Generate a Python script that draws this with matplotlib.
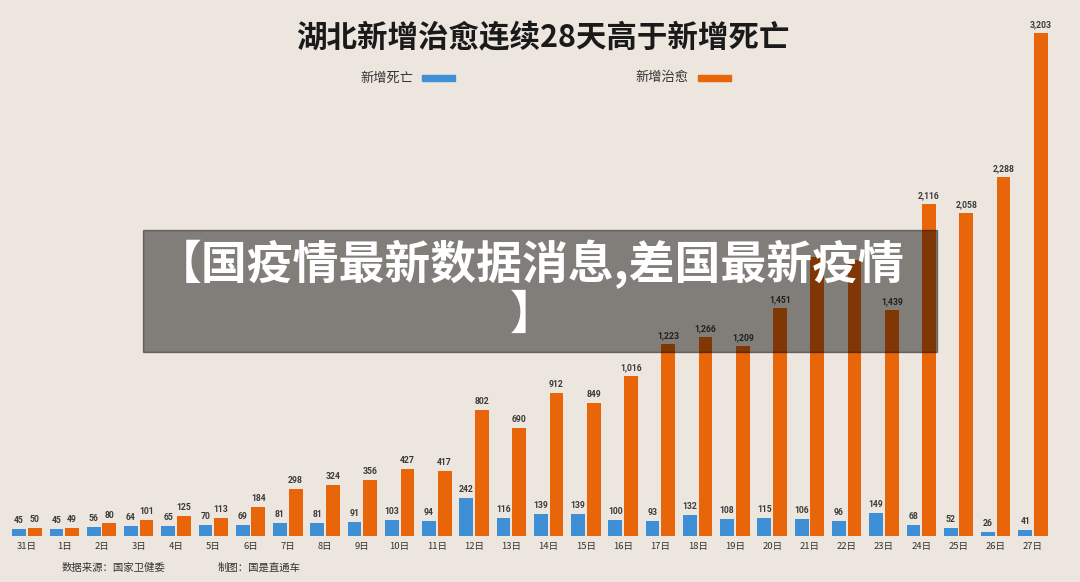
import matplotlib.pyplot as plt
import numpy as np
from matplotlib.patches import Rectangle

plt.rcParams['font.family'] = ['Noto Sans CJK SC', 'DejaVu Sans']

days = [31] + list(range(1, 28))
day_labels = [f"{d}日" for d in days]
deaths = [45, 45, 56, 64, 65, 70, 69, 81, 81, 91, 103, 94, 242, 116,
          139, 139, 100, 93, 132, 108, 115, 106, 96, 149, 68, 52, 26, 41]
cured = [50, 49, 80, 101, 125, 113, 184, 298, 324, 356, 427, 417, 802, 690,
         912, 849, 1016, 1223, 1266, 1209, 1451, 1779, 1757, 1439, 2116, 2058, 2288, 3203]
# labels of 21日 / 22日 cured bars are covered by the banner text
hidden_labels = [21, 22]

title = "湖北新增治愈连续28天高于新增死亡"
legend_names = ["新增死亡", "新增治愈"]
banner_lines = ["【国疫情最新数据消息,差国最新疫情", "】"]

bg = '#ECE6DE'
blue = '#3F8FD6'
orange = '#E8650A'

fig = plt.figure(figsize=(10.8, 5.82), dpi=100, facecolor=bg)

ax = fig.add_axes([0, 46 / 582, 1, 536 / 582])
ax.set_facecolor('none')
x = np.arange(len(days))
w = 0.37
ax.bar(x - 0.21, deaths, width=w, color=blue, zorder=2)
ax.bar(x + 0.21, cured, width=w, color=orange, zorder=2)

lab_kw = dict(ha='center', va='bottom', fontsize=6.2, color='#3a3a3a',
              fontweight='bold', family='Roboto')
for xi, day, d, c in zip(x, days, deaths, cured):
    ax.text(xi - 0.21, d + 25, f"{d:,}", **lab_kw)
    if day not in hidden_labels:
        ax.text(xi + 0.21, c + 25, f"{c:,}", **lab_kw)

ax.set_xlim(-27 / 37.26, (1080 - 27) / 37.26)
ax.set_ylim(0, 3203 * 536 / 503)
ax.set_xticks(x)
ax.set_xticklabels(day_labels, fontsize=6.8, color='#333333')
ax.tick_params(length=0, pad=4)
ax.set_yticks([])
for s in ax.spines.values():
    s.set_visible(False)

fig.text(0.503, 1 - 38 / 582, title, ha='center', va='center',
         fontsize=22, fontweight='black', color='#1a1a1a')

fig.text(413 / 1080, 1 - 78 / 582, legend_names[0], ha='right', va='center',
         fontsize=9.5, color='#333333')
fig.patches.append(Rectangle((422 / 1080, 1 - 81 / 582), 33 / 1080, 6 / 582,
                             transform=fig.transFigure, color=blue))
fig.text(688 / 1080, 1 - 78 / 582, legend_names[1], ha='right', va='center',
         fontsize=9.5, color='#333333')
fig.patches.append(Rectangle((698 / 1080, 1 - 81 / 582), 33 / 1080, 6 / 582,
                             transform=fig.transFigure, color=orange))

fig.text(62 / 1080, 1 - 568 / 582, "数据来源：国家卫健委", ha='left', va='center',
         fontsize=7.5, color='#333333')
fig.text(218 / 1080, 1 - 568 / 582, "制图：国是直通车", ha='left', va='center',
         fontsize=7.5, color='#333333')

# overlay banner
fig.patches.append(Rectangle((143 / 1080, 1 - 352 / 582), 794 / 1080, 122 / 582,
                             transform=fig.transFigure, color='black', alpha=0.45,
                             zorder=5))
fig.text(530 / 1080, 1 - 264 / 582, banner_lines[0], ha='center', va='center',
         fontsize=33, fontweight='black', color='white', zorder=6)
fig.text(533 / 1080, 1 - 316 / 582, banner_lines[1], ha='center', va='center',
         fontsize=33, fontweight='black', color='white', zorder=6)

fig.savefig('out.png', dpi=100, facecolor=bg)
